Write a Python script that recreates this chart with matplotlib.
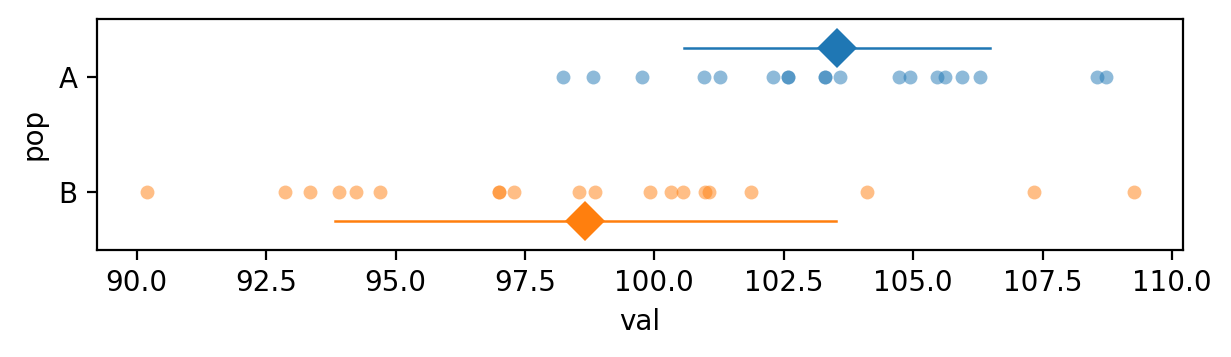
import matplotlib.pyplot as plt
import numpy as np

# values
pops = ['A', 'B']
val_a = [98.24, 98.81, 99.76, 100.95, 101.27, 102.30, 102.59, 102.59, 103.29,
         103.29, 103.58, 104.73, 104.93, 105.47, 105.62, 105.94, 106.30,
         108.56, 108.73]
val_b = [90.19, 92.87, 93.35, 93.90, 94.24, 94.70, 96.99, 96.99, 97.28, 98.55,
         98.86, 99.92, 100.32, 100.55, 100.98, 101.05, 101.87, 104.11, 107.33,
         109.26]
colors = ['#1f77b4', '#ff7f0e']
offsets = [-0.25, 0.25]

fig, ax = plt.subplots(figsize=(6.155, 1.785), dpi=200)

for i, (vals, c, off) in enumerate(zip([val_a, val_b], colors, offsets)):
    vals = np.array(vals)
    ax.scatter(vals, np.full(len(vals), i), s=25, color=c, alpha=0.5,
               linewidths=0, zorder=2)
    m = vals.mean()
    sd = vals.std(ddof=1)
    ax.plot([m - sd, m + sd], [i + off, i + off], color=c, lw=0.9, zorder=3)
    ax.plot([m], [i + off], marker='D', ms=10, color=c, mew=0, zorder=4)

ax.set_yticks([0, 1])
ax.set_yticklabels(pops)
ax.set_ylim(1.5, -0.5)
ax.set_xlabel('val')
ax.set_ylabel('pop')

fig.subplots_adjust(left=0.079, right=0.961, top=0.947, bottom=0.30)
fig.savefig('out.png', dpi=200)
